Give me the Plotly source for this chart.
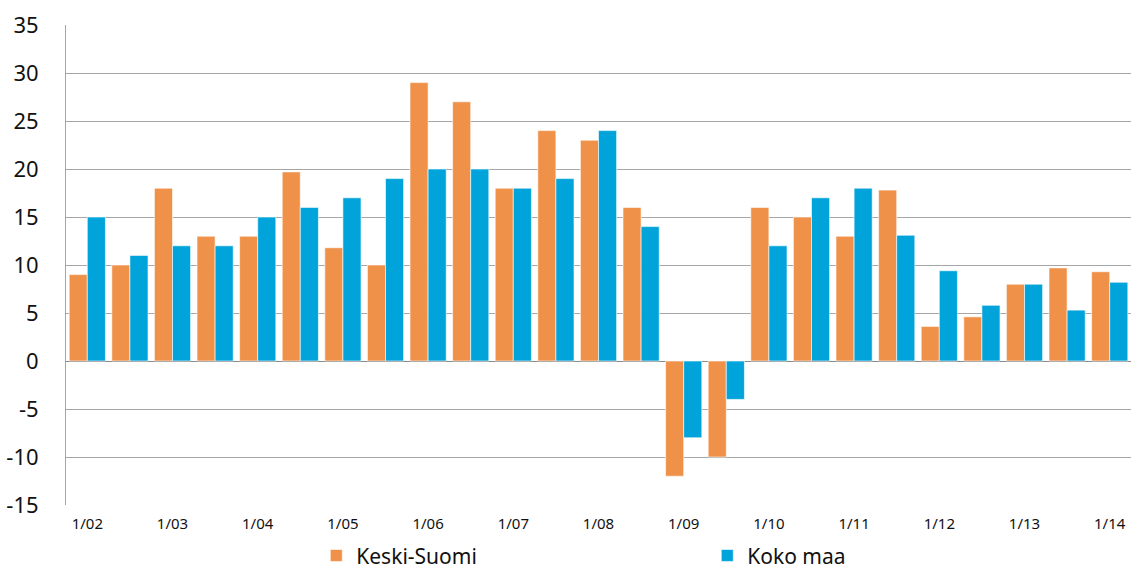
import plotly.graph_objects as go

labels = ["1/02", "", "1/03", "", "1/04", "", "1/05", "", "1/06", "", "1/07", "", "1/08", "",
          "1/09", "", "1/10", "", "1/11", "", "1/12", "", "1/13", "", "1/14"]
keski_suomi = [9, 10, 18, 13, 13, 19.7, 11.8, 10, 29, 27, 18, 24, 23, 16,
               -12, -10, 16, 15, 13, 17.8, 3.6, 4.6, 8, 9.7, 9.3]
koko_maa = [15, 11, 12, 12, 15, 16, 17, 19, 20, 20, 18, 19, 24, 14,
            -8, -4, 12, 17, 18, 13.1, 9.4, 5.8, 8, 5.3, 8.2]
y_ticks = [-15, -10, -5, 0, 5, 10, 15, 20, 25, 30, 35]

x = list(range(len(labels)))

fig = go.Figure()
fig.add_trace(go.Bar(x=x, y=keski_suomi, name="Keski-Suomi",
                     marker=dict(color="#F0914A", line=dict(color="rgba(255,255,255,0.6)", width=1))))
fig.add_trace(go.Bar(x=x, y=koko_maa, name="Koko maa",
                     marker=dict(color="#00A3DA", line=dict(color="rgba(255,255,255,0.6)", width=1))))

fig.update_layout(
    width=1131, height=573,
    margin=dict(l=66, r=0, t=25, b=68),
    paper_bgcolor="white", plot_bgcolor="white",
    barmode="group", bargap=0.15, bargroupgap=0,
    font=dict(family="Noto Sans, Liberation Sans, sans-serif", color="#111111"),
    xaxis=dict(tickmode="array", tickvals=x, ticktext=labels, range=[-0.5, 24.5],
               showgrid=False, zeroline=False, showline=False, ticks="",
               tickfont=dict(size=15), tickangle=0, ticklabelstandoff=8),
    yaxis=dict(range=[-15, 35], tickmode="array", tickvals=y_ticks,
               ticktext=[str(v) for v in y_ticks],
               showgrid=True, gridcolor="#A6A6A6", gridwidth=1,
               zeroline=True, zerolinecolor="#8C8C8C", zerolinewidth=1,
               showline=True, linecolor="#A6A6A6", linewidth=1, ticks="",
               tickfont=dict(size=22), ticklabelstandoff=22),
    showlegend=True,
    legend=dict(orientation="h", x=0.235, xanchor="left",
                yref="container", y=0.03, yanchor="middle",
                entrywidth=346, entrywidthmode="pixels", font=dict(size=21),
                itemwidth=30, tracegroupgap=0),
)

fig.write_html("out.html", config={"displayModeBar": False},
               post_script="document.body.style.margin='0';document.body.style.overflow='hidden';")
